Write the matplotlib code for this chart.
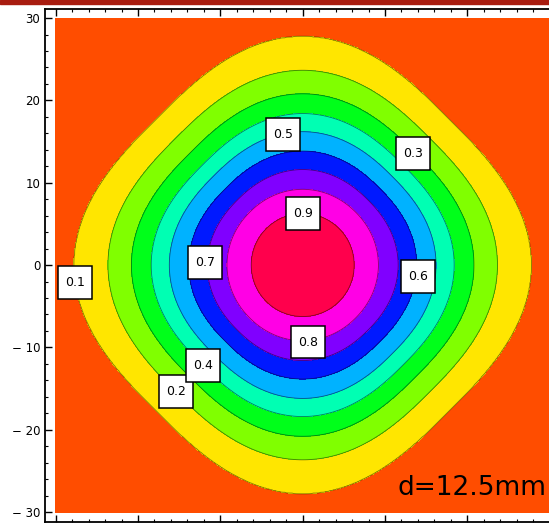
import colorsys
import numpy as np
import matplotlib.pyplot as plt
from matplotlib.patches import Rectangle

# contour levels and how far each contour reaches from the centre (mm)
levels = [0.1, 0.2, 0.3, 0.4, 0.5, 0.6, 0.7, 0.8, 0.9]
axis_radius = [27.75, 23.65, 20.8, 18.4, 16.2, 13.85, 11.6, 9.2, 6.27]   # along x / y axis
diag_radius = [25.1, 21.8, 19.3, 17.2, 15.3, 13.2, 11.2, 9.1, 6.27]      # along the 45 deg diagonal

# contour labels
label_text = ["0.1", "0.2", "0.3", "0.4", "0.5", "0.6", "0.7", "0.8", "0.9"]
label_xy = [(-27.7, -2.1), (-15.4, -15.4), (13.4, 13.6), (-12.1, -12.15), (-2.4, 15.8),
            (14.0, -1.35), (-11.9, 0.35), (0.6, -9.35), (0.0, 6.3)]

ytick_vals = [-30, -20, -10, 0, 10, 20, 30]
ytick_text = ["\u2212 30", "\u2212 20", "\u2212 10", "0", "10", "20", "30"]

# field: every level lies on a rounded square turned by 45 deg with the measured sizes
ratio = np.array(diag_radius) / np.array(axis_radius)
q = 1.0 / (0.5 + np.log2(ratio))
lv = np.array([0.0] + levels + [1.0])
A = np.array([60.0] + diag_radius + [0.0])
Q = np.array([q[0]] + list(q) + [2.0])

x = np.linspace(-30, 30, 601)
X, Y = np.meshgrid(x, x)
U = np.abs(X + Y) / np.sqrt(2)
V = np.abs(X - Y) / np.sqrt(2)
G = np.stack([A[k] - (U ** Q[k] + V ** Q[k]) ** (1 / Q[k]) for k in range(len(lv))])
idx = np.clip((G >= 0).sum(axis=0) - 1, 0, len(lv) - 2)
g0 = np.take_along_axis(G, idx[None], 0)[0]
g1 = np.take_along_axis(G, idx[None] + 1, 0)[0]
Z = lv[idx] + (lv[idx + 1] - lv[idx]) * g0 / (g0 - g1)

# Mathematica Hue colouring, one hue per band
band_colors = [colorsys.hsv_to_rgb(0.05 + 0.1 * k, 1, 1) for k in range(10)]

W, H = 549, 527
fig = plt.figure(figsize=(W / 100, H / 100), dpi=100)
fig.patch.set_facecolor("white")
fig.patches.append(Rectangle((0, 1 - 4 / H), 1, 4 / H, transform=fig.transFigure,
                             color="#a81c10", zorder=5))

px = 8.233  # pixels per mm
ax = fig.add_axes([45 / W, 5.5 / H, 62.5 * px / W, 62.2 * px / H])
ax.set_xlim(-31.3, 31.2)
ax.set_ylim(-31.15, 31.05)

ax.contourf(X, Y, Z, levels=[-0.01] + levels + [1.01], colors=band_colors)
ax.contour(X, Y, Z, levels=levels, colors="k", linewidths=0.6, alpha=0.5)

bw, bh = 4.1, 4.0  # label box size, mm
for t, (lx, ly) in zip(label_text, label_xy):
    ax.add_patch(Rectangle((lx - bw / 2, ly - bh / 2), bw, bh, fc="white", ec="black",
                           lw=1.1, zorder=9))
    ax.text(lx, ly, t, ha="center", va="center", fontsize=9, zorder=10)

ax.text(11.5, -27.95, "d=12.5mm", fontsize=19, ha="left", va="baseline", zorder=10)

ax.set_yticks(ytick_vals)
ax.set_yticklabels(ytick_text)
ax.set_xticks(ytick_vals)
ax.set_xticklabels([])
ax.set_xticks(np.arange(-30, 31, 2), minor=True)
ax.set_yticks(np.arange(-30, 31, 2), minor=True)
ax.tick_params(which="both", direction="in", top=True, right=True, labelsize=8.5, pad=3.5)
ax.tick_params(which="major", length=5, width=1)
ax.tick_params(which="minor", length=2.5, width=0.8)
for s in ax.spines.values():
    s.set_linewidth(1.3)

fig.savefig("out.png", dpi=100)
